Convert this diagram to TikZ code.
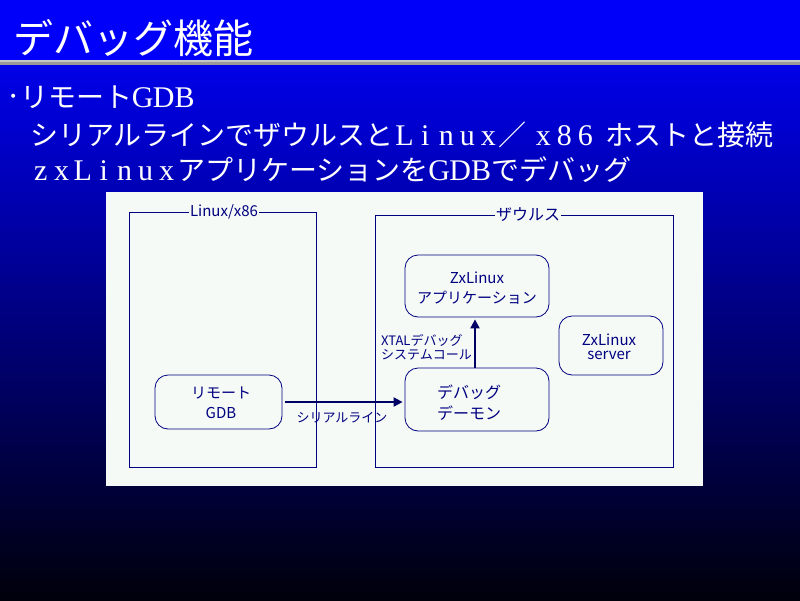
\documentclass[tikz,border=0pt]{standalone}
\usepackage{fontspec}
\setmainfont{Noto Sans CJK JP}
\newfontfamily\lat{Liberation Serif}
\usetikzlibrary{arrows.meta}
\definecolor{navy}{RGB}{0,0,128}
\definecolor{darknavy}{RGB}{0,0,100}
\definecolor{panel}{RGB}{245,250,246}
\definecolor{topblue}{RGB}{0,0,250}
\definecolor{gradtop}{RGB}{0,0,232}
\definecolor{gradbot}{RGB}{0,0,10}
\newcommand\lc[1]{\makebox[21pt][c]{\lat\fontsize{30}{30}\selectfont #1}}
\begin{document}
\begin{tikzpicture}[x=1pt,y=-1pt,
  heading/.style={anchor=west, inner sep=0, text=white},
  frame/.style={draw=navy, line width=0.8pt},
  rbox/.style={draw=navy, line width=0.8pt, rounded corners=13pt, inner sep=0},
  dtext/.style={text=navy, align=center, inner sep=0},
  flow/.style={draw=darknavy, line width=2pt, -{Triangle[length=9pt,width=9pt]}}]
\useasboundingbox (0,0) rectangle (800,600);
% background
\fill[topblue] (0,0) rectangle (800,60);
\shade[top color=gradtop, bottom color=gradbot] (0,65) rectangle (800,600);
\fill[gray!80] (0,60) rectangle (800,65);
\fill[gray!45] (0,60) rectangle (800,61.5);
% title and bullets
\node[heading, font=\fontsize{40}{40}\selectfont] (title) at (13,38) {デバッグ機能};
\node[heading, font=\fontsize{28}{28}\selectfont] (b1) at (6,97)
  {\makebox[14pt]{\lat\fontsize{34}{34}\selectfont ·}リモート\lc{G}\lc{D}\lc{B}};
\node[heading, font=\fontsize{28}{28}\selectfont] (b2) at (30,135)
  {シリアルラインでザウルスと\lc{L}\lc{i}\lc{n}\lc{u}\lc{x}／\hspace{6pt}\lc{x}\lc{8}\lc{6}\hspace{10pt}ホストと接続};
\node[heading, font=\fontsize{28}{28}\selectfont] (b3) at (30,170)
  {\lc{z}\lc{x}\lc{L}\lc{i}\lc{n}\lc{u}\lc{x}アプリケーションを\lc{G}\lc{D}\lc{B}でデバッグ};
% diagram panel
\fill[panel] (106,192) rectangle (703,486);
\draw[frame] (129,212) rectangle (316,467);
\node[fill=panel, inner sep=1pt, text=navy, font=\fontsize{15}{15}\selectfont] (linuxlbl) at (224,212) {Linux/x86};
\draw[frame] (375,215) rectangle (673,467);
\node[fill=panel, inner sep=1pt, text=navy, font=\fontsize{16}{16}\selectfont] (zaurlbl) at (528,215) {ザウルス};
% boxes
\node[rbox, minimum width=144pt, minimum height=62pt] (app) at (477,286) {};
\node[dtext, font=\fontsize{15}{20}\selectfont] (apptxt) at (477,288) {ZxLinux\\アプリケーション};
\node[rbox, minimum width=104pt, minimum height=59pt] (server) at (611,345.5) {};
\node[dtext, font=\fontsize{15}{14}\selectfont] (servertxt) at (609,347) {ZxLinux\\server};
\node[rbox, minimum width=144pt, minimum height=63pt] (daemon) at (477,399.5) {};
\node[dtext, align=left, font=\fontsize{16}{21}\selectfont] (daemontxt) at (469,402.5) {デバッグ\\デーモン};
\node[rbox, minimum width=127pt, minimum height=54pt] (gdb) at (218.5,402) {};
\node[dtext, font=\fontsize{15}{20}\selectfont] (gdbtxt) at (221,403) {リモート\\GDB};
% connectors
\draw[flow, shorten <=3pt, shorten >=2pt] (gdb.east) -- (gdb.east -| daemon.west);
\node[text=navy, inner sep=0, font=\fontsize{13}{13}\selectfont] (serial) at (342,418) {シリアルライン};
\draw[flow, shorten >=2pt] ([xshift=-2pt]daemon.north) -- ([xshift=-2pt]app.south);
\node[anchor=west, align=left, text=navy, inner sep=0, font=\fontsize{13}{14}\selectfont] (xtal) at (381,347) {XTALデバッグ\\システムコール};
\end{tikzpicture}
\end{document}
